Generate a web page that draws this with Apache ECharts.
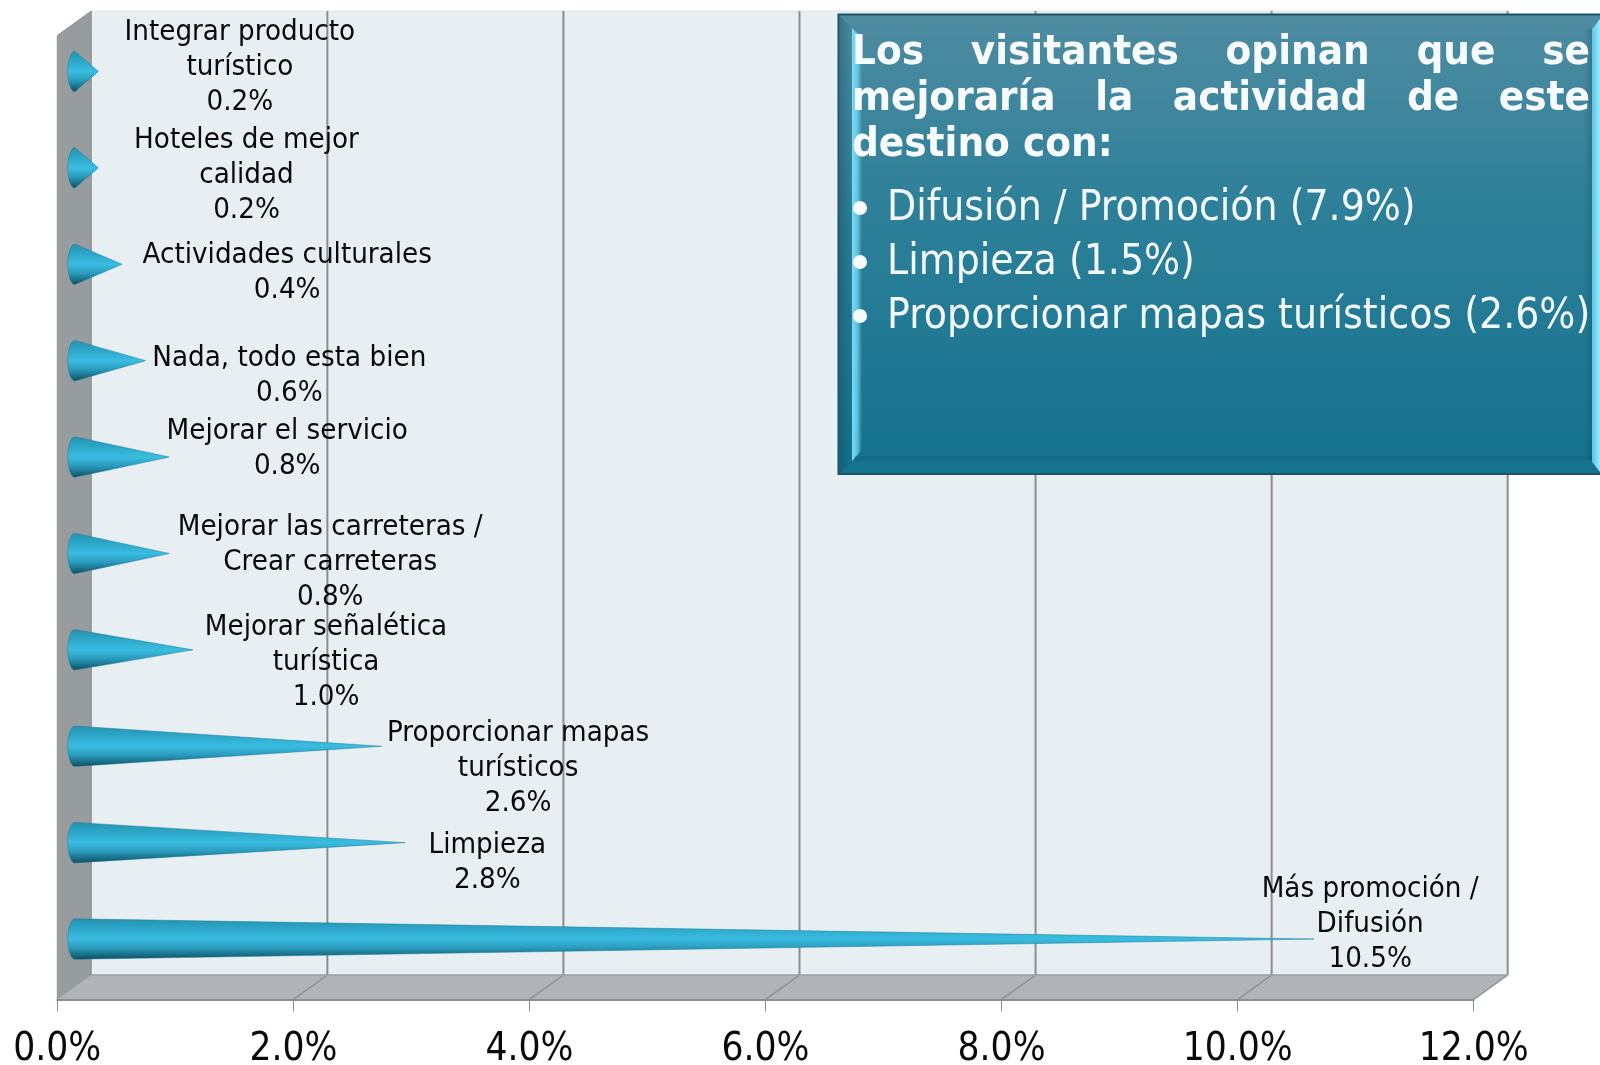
<!DOCTYPE html>
<html>
<head>
<meta charset="utf-8">
<style>html,body{margin:0;padding:0;background:#fff}#c{width:1600px;height:1065px}</style>
<script src="https://cdn.jsdelivr.net/npm/echarts@6/dist/echarts.min.js"></script>
</head>
<body>
<div id="c"></div>
<script>
// ---- data (bottom to top) ----
const categories = [
  'Más promoción /\nDifusión',
  'Limpieza',
  'Proporcionar mapas\nturísticos',
  'Mejorar señalética\nturística',
  'Mejorar las carreteras /\nCrear carreteras',
  'Mejorar el servicio',
  'Nada, todo esta bien',
  'Actividades culturales',
  'Hoteles de mejor\ncalidad',
  'Integrar producto\nturístico'
];
const values = [10.5, 2.8, 2.6, 1.0, 0.8, 0.8, 0.6, 0.4, 0.2, 0.2];
const axisTicks = [0, 2, 4, 6, 8, 10, 12];
const boxTitleLines = ['Los visitantes opinan que se', 'mejoraría la actividad de este', 'destino con:'];
const boxBullets = ['Difusión / Promoción (7.9%)', 'Limpieza (1.5%)', 'Proporcionar mapas turísticos (2.6%)'];

// ---- layout (manual label placement, relative to each cone's tip) ----
const labelOffsets = [[56,-15],[82,20],[136.4,21.8],[133.2,12.7],[161,8.6],[118,-8.5],[143.7,15.4],[165.2,8.3],[148.1,7.7],[141.4,-4.4]];
const DX = 34, DY = 24.5;
const FONT = '"DejaVu Sans Condensed","DejaVu Sans",sans-serif';
const EDGE = '#8b8e90';

const chart = echarts.init(document.getElementById('c'));
const LG = echarts.graphic.LinearGradient;

function renderFrame(params, api) {
  const c = params.coordSys;
  const x0 = c.x, x1 = c.x + c.width, yT = c.y, yB = c.y + c.height;
  const kids = [
    {type:'rect', shape:{x:x0+DX,y:yT-DY,width:c.width,height:c.height}, style:{fill:'#e8eff3',stroke:'#dfe5e8',lineWidth:1}},
    {type:'polygon', shape:{points:[[x0,yT],[x0+DX,yT-DY],[x0+DX,yB-DY],[x0,yB]]}, style:{fill:'#979c9f',stroke:'#8f9497',lineWidth:1}},
    {type:'polygon', shape:{points:[[x0,yB],[x0+DX,yB-DY],[x1+DX,yB-DY],[x1,yB]]}, style:{fill:'#b0b4b6'}}
  ];
  axisTicks.forEach(t => {
    const x = api.coord([t, 0])[0];
    if (t > 0) {
      kids.push({type:'line', shape:{x1:x+DX,y1:yT-DY,x2:x+DX,y2:yB-DY}, style:{stroke:EDGE,lineWidth:2}});
      kids.push({type:'line', shape:{x1:x,y1:yB,x2:x+DX,y2:yB-DY}, style:{stroke:EDGE,lineWidth:1.5}});
    }
  });
  kids.push({type:'line', shape:{x1:x0+DX,y1:yB-DY,x2:x1+DX,y2:yB-DY}, style:{stroke:'#9da1a3',lineWidth:1.5}});
  return {type:'group', children:kids};
}

function renderCone(params, api) {
  const v = api.value(0), cat = api.value(1);
  const base = api.coord([0, cat]), tip = api.coord([v, cat]);
  const cy = tip[1] - DY/2, bx = base[0] + 17.5, tx = tip[0] + 17.5;
  const band = api.size([0, 1])[1];
  const ry = band * 0.21, rx = 7;
  const pts = [];
  for (let a = 90; a <= 270; a += 10) {
    const r = a * Math.PI / 180;
    pts.push([bx + rx*Math.cos(r), cy - ry*Math.sin(r)]);
  }
  pts.push([tx, cy]);
  const off = labelOffsets[params.dataIndex];
  return {type:'group', children:[
    {type:'polygon', shape:{points:pts}, style:{
      fill:new LG(0,0,0,1,[{offset:0,color:'#2790ad'},{offset:.22,color:'#2ba5c6'},{offset:.5,color:'#3abde1'},{offset:.72,color:'#2a9abb'},{offset:.9,color:'#176a82'},{offset:1,color:'#0e4a5c'}]),
      stroke:'#1d7d98', lineWidth:0.5}},
    {type:'text', z2:20, style:{
      x:tx+off[0], y:cy+off[1], align:'center', verticalAlign:'middle',
      text:categories[params.dataIndex]+'\n'+v.toFixed(1)+'%',
      font:'29.2px '+FONT, lineHeight:35, fill:'#0a0a0a'}}
  ]};
}

// text box: justified heading measured with a canvas context
const meas = document.createElement('canvas').getContext('2d');
function boxText() {
  const L = 852, R = 1590, out = [];
  const titleFont = 'bold 41.7px '+FONT;
  meas.font = titleFont;
  boxTitleLines.forEach((line, i) => {
    const y = 53 + i*46;
    const words = line.split(' ');
    const just = i < boxTitleLines.length-1;
    const total = words.reduce((s,w)=>s+meas.measureText(w).width,0);
    const gap = just ? (R-L-total)/(words.length-1) : meas.measureText(' ').width;
    let x = L;
    words.forEach(w => {
      out.push({type:'text', z:102, style:{x:x,y:y,text:w,font:titleFont,fill:'#f7fafb',align:'left',verticalAlign:'middle'}});
      x += meas.measureText(w).width + gap;
    });
  });
  boxBullets.forEach((t,i) => {
    const y = 209 + i*54;
    out.push({type:'circle', z:102, shape:{cx:860,cy:y-1,r:7}, style:{fill:'#f7fafb'}});
    out.push({type:'text', z:102, style:{x:887,y:y,text:t,font:'42.2px '+FONT,fill:'#f2f7fa',align:'left',verticalAlign:'middle'}});
  });
  return out;
}

const boxShapes = [
  {type:'rect', z:100, shape:{x:838.5,y:14.5,width:780,height:459.5},
    style:{fill:new LG(0,0,0,1,[{offset:0,color:'#4f8ca1'},{offset:.4,color:'#2f8099'},{offset:1,color:'#13728e'}]),stroke:'#1b5363',lineWidth:2}},
  {type:'polygon', z:101, shape:{points:[[840,16],[852,28],[852,461],[840,473]]},
    style:{fill:new LG(0,0,1,0,[{offset:0,color:'rgba(15,60,80,0.3)'},{offset:1,color:'rgba(15,60,80,0.02)'}])}},
  {type:'polygon', z:101, shape:{points:[[852,28],[862,38],[862,450],[852,461]]},
    style:{fill:new LG(0,0,1,0,[{offset:0,color:'rgba(120,222,250,1)'},{offset:.55,color:'rgba(120,222,250,0.7)'},{offset:1,color:'rgba(120,222,250,0)'}])}},
  {type:'polygon', z:101, shape:{points:[[1584,29],[1592,29],[1592,462],[1584,455]]},
    style:{fill:new LG(0,0,1,0,[{offset:0,color:'rgba(15,60,80,0)'},{offset:1,color:'rgba(15,60,80,0.25)'}])}},
  {type:'polygon', z:101, shape:{points:[[1592,29],[1600,19],[1600,472],[1592,462]]},
    style:{fill:new LG(0,0,1,0,[{offset:0,color:'#58c4e3'},{offset:1,color:'#9aecff'}])}},
  {type:'rect', z:101, shape:{x:854,y:456,width:738,height:5}, style:{fill:'rgba(15,70,90,0.15)'}}
];

chart.setOption({
  animation:false,
  backgroundColor:'#fff',
  grid:{left:57.3, top:35.5, width:1416.4, height:964, outerBoundsMode:'none'},
  xAxis:{type:'value', min:0, max:12, interval:2, z:5,
    axisLine:{show:true, lineStyle:{color:EDGE,width:2}},
    axisTick:{show:true, length:12, lineStyle:{color:EDGE,width:1}},
    splitLine:{show:false},
    axisLabel:{margin:31, fontSize:38.5, fontFamily:FONT, color:'#0a0a0a', formatter:v=>v.toFixed(1)+'%'}},
  yAxis:{type:'category', data:categories, axisLine:{show:false}, axisTick:{show:false}, axisLabel:{show:false}, splitLine:{show:false}},
  series:[
    {type:'custom', z:1, coordinateSystem:'cartesian2d', silent:true, renderItem:renderFrame, data:[[0,0]], clip:false},
    {type:'custom', z:3, coordinateSystem:'cartesian2d', silent:true, renderItem:renderCone, clip:false,
     encode:{x:0,y:1}, data:values.map((v,i)=>[v,i])}
  ],
  graphic:[{type:'group', z:100, children:boxShapes.concat(boxText())}]
});
</script>
</body>
</html>
